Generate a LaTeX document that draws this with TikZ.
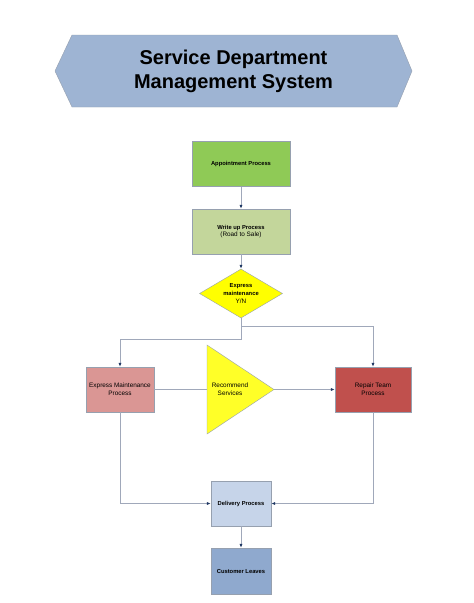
\documentclass[tikz,border=0pt]{standalone}
\usepackage{fontspec}
\setmainfont{Liberation Sans}
\usepackage{tikz}
\usetikzlibrary{arrows.meta}
\usetikzlibrary{shapes,shapes.geometric}

\definecolor{titleblue}{RGB}{158,180,211}
\definecolor{apptgreen}{RGB}{143,202,86}
\definecolor{writeolive}{RGB}{195,214,155}
\definecolor{decyellow}{RGB}{255,255,0}
\definecolor{recyellow}{RGB}{255,255,40}
\definecolor{exprose}{RGB}{218,150,148}
\definecolor{repred}{RGB}{192,80,77}
\definecolor{delblue}{RGB}{198,212,233}
\definecolor{cusblue}{RGB}{143,169,206}
\definecolor{boxline}{RGB}{150,160,175}
\definecolor{linegray}{RGB}{160,168,186}
\definecolor{tipnavy}{RGB}{31,56,100}

\newcommand{\boldlbl}[1]{{\fontsize{5.8}{7.4}\selectfont\bfseries #1}}

\begin{document}
\begin{tikzpicture}[x=1pt,y=-1pt]
\useasboundingbox (0,0) rectangle (474,603);
\fill[white] (0,0) rectangle (474,603);
\draw[draw=boxline,fill=titleblue] (55,71) -- (72,35) -- (397,35) -- (412,71) -- (397,107) -- (72,107) -- cycle;
\node[align=center,font=\fontsize{20}{24}\selectfont\bfseries] (title) at (233.5,71) {Service Department\\Management System};
\begin{scope}[every node/.style={rectangle,thin,draw=boxline,align=center,inner sep=1pt,
              font=\fontsize{6.4}{7.6}\selectfont}]
    \node[fill=apptgreen,minimum width=98pt,minimum height=45pt] (app) at (241,164) {\boldlbl{Appointment Process}};
    \node[fill=writeolive,minimum width=98pt,minimum height=45pt] (wri) at (241,231.5) {\boldlbl{Write up Process}\\(Road to Sale)};
    \node[diamond,aspect=1.7,inner sep=0pt,fill=decyellow,minimum width=83pt,minimum height=49pt] (exm) at (241,293.5) {\boldlbl{Express}\\\boldlbl{maintenance}\\Y/N};
    \node[fill=exprose,minimum width=68pt,minimum height=45pt] (exp) at (120,389.5) {Express Maintenance\\Process};
    \node[fill=repred,minimum width=76pt,minimum height=45pt] (rep) at (373,389.5) {Repair Team\\Process};
    \node[fill=delblue,minimum width=60pt,minimum height=45pt] (del) at (241,503.5) {\boldlbl{Delivery Process}};
    \node[fill=cusblue,minimum width=60pt,minimum height=46pt] (cus) at (241,571) {\boldlbl{Customer Leaves}};
\end{scope}
\draw[thin,draw=boxline,fill=recyellow] (207,345) -- (274,389.5) -- (207,434) -- cycle;
\coordinate (rec-w) at (207,389.5);
\coordinate (rec-e) at (274,389.5);
\node[align=center,font=\fontsize{6.4}{7.6}\selectfont] (rec) at (230,389.5) {Recommend\\Services};
\coordinate (splitR) at (241,326);
\coordinate (splitL) at (241,339);
\begin{scope}[>={Latex[color=tipnavy,length=4pt,width=3.2pt]},
              every edge/.style={draw=linegray,line width=0.8pt},
              conn/.style={draw=linegray,line width=0.8pt}]
    \path [->] (app) edge (wri);
    \path [->] (wri) edge (exm);
    \draw [conn,->] (exm.south) -- (splitR) -| (rep.north);
    \draw [conn,->] (splitR) -- (splitL) -| (exp.north);
    \path [-] (exp.east) edge (rec-w);
    \path [->] (rec-e) edge (rep.west);
    \draw [conn,->] (exp.south) |- (del.west);
    \draw [conn,->] (rep.south) |- (del.east);
    \path [->] (del) edge (cus);
\end{scope}
\end{tikzpicture}
\end{document}
